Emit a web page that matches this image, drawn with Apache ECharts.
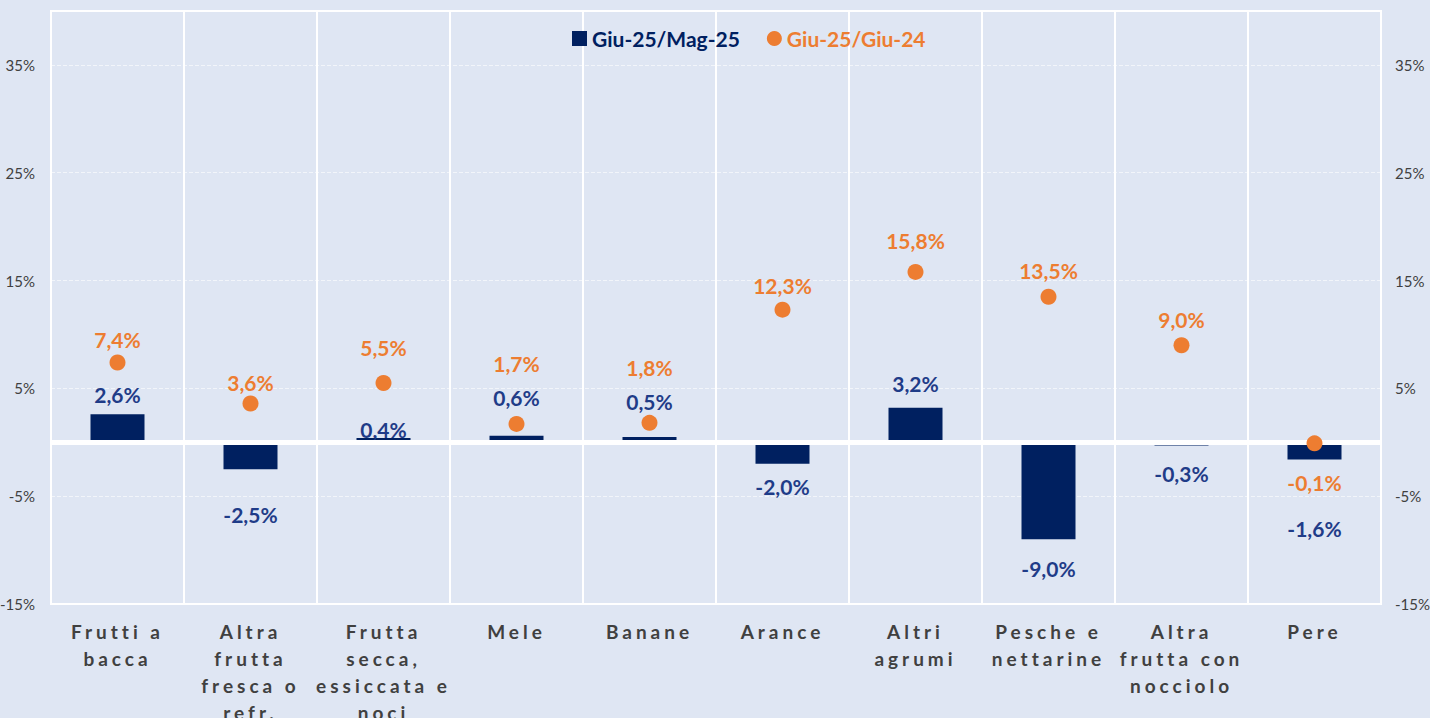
<!DOCTYPE html>
<html>
<head>
    <meta charset="utf-8">
    <title>Frutta - variazioni prezzi</title>
    <script src="https://cdn.jsdelivr.net/npm/echarts@6/dist/echarts.min.js"></script>
    <style>
        html, body { margin: 0; padding: 0; background: #DFE6F3; }
        #chart { width: 1430px; height: 718px; }
    </style>
</head>
<body>
    <div id="chart"></div>
    <script type="text/javascript">
        // categorie (a capo come nell'originale)
        var categories = ['Frutti a\nbacca', 'Altra\nfrutta\nfresca o\nrefr.', 'Frutta\nsecca,\nessiccata e\nnoci', 'Mele', 'Banane',
            'Arance', 'Altri\nagrumi', 'Pesche e\nnettarine', 'Altra\nfrutta con\nnocciolo', 'Pere'];
        // Giu-25/Mag-25 (%)
        var momValues = [2.6, -2.5, 0.4, 0.6, 0.5, -2.0, 3.2, -9.0, -0.3, -1.6];
        // Giu-25/Giu-24 (%)
        var yoyValues = [7.4, 3.6, 5.5, 1.7, 1.8, 12.3, 15.8, 13.5, 9.0, -0.1];
        // asse y
        var yMin = -15, yMax = 40, yStep = 10;

        // distanza (px) tra fine della barra / centro del punto e centro dell'etichetta
        var momLabelGap = [20, 45, 8, 38, 35, 23, 24, 29, 28, 69];
        var yoyLabelGap = [23, 21, 35, 60, 55, 24, 31, 26, 26, 39];

        var NAVY = '#002060', ORANGE = '#ED7D31', LABEL_BLUE = '#1F3C88';
        var LH = 22;

        function pct(v) {
            return v.toFixed(1).replace('.', ',') + '%';
        }

        var barData = momValues.map(function (v, i) {
            return {
                value: v,
                label: { position: v >= 0 ? 'top' : 'bottom', distance: momLabelGap[i] - LH / 2 }
            };
        });
        var dotData = yoyValues.map(function (v, i) {
            return {
                value: v,
                label: { position: v >= 0 ? 'top' : 'bottom', distance: yoyLabelGap[i] - 8 - LH / 2 }
            };
        });

        var chart = echarts.init(document.getElementById('chart'), null, { renderer: 'svg' });

        var option = {
            backgroundColor: '#DFE6F3',
            animation: false,
            textStyle: { fontFamily: 'Lato' },
            legend: {
                left: 567,
                top: 23,
                itemWidth: 15,
                itemHeight: 15,
                itemGap: 27,
                textStyle: { fontSize: 21, fontWeight: 'bold', fontFamily: 'Lato' },
                data: [
                    { name: 'Giu-25/Mag-25', icon: 'rect', textStyle: { color: NAVY } },
                    { name: 'Giu-25/Giu-24', icon: 'circle', textStyle: { color: ORANGE } }
                ]
            },
            grid: {
                left: 51,
                right: 49,
                top: 11,
                bottom: 114,
                outerBoundsMode: 'none',
                containLabel: false,
                show: true,
                borderColor: '#ffffff',
                borderWidth: 2,
                backgroundColor: 'transparent'
            },
            xAxis: {
                type: 'category',
                data: categories,
                axisLine: { show: false, onZero: false },
                axisTick: { show: false },
                splitLine: { show: true, interval: 0, lineStyle: { color: '#ffffff', width: 2 } },
                axisLabel: {
                    interval: 0,
                    margin: 14,
                    color: '#404040',
                    fontSize: 19,
                    fontWeight: 'bold',
                    fontFamily: 'Lato',
                    lineHeight: 27
                }
            },
            yAxis: [
                {
                    type: 'value',
                    min: yMin,
                    max: yMax,
                    interval: yStep,
                    axisLine: { show: false },
                    axisTick: { show: false },
                    splitLine: { lineStyle: { color: 'rgba(255,255,255,0.6)', type: 'dashed', width: 1 } },
                    axisLabel: {
                        showMaxLabel: false,
                        margin: 16,
                        color: '#404040',
                        fontSize: 15,
                        formatter: function (v) { return v + '%'; }
                    }
                },
                {
                    type: 'value',
                    min: yMin,
                    max: yMax,
                    interval: yStep,
                    position: 'right',
                    axisLine: { show: false },
                    axisTick: { show: false },
                    splitLine: { show: false },
                    axisLabel: {
                        showMaxLabel: false,
                        margin: 14,
                        color: '#404040',
                        fontSize: 15,
                        formatter: function (v) { return v + '%'; }
                    }
                }
            ],
            series: [
                {
                    name: 'Giu-25/Mag-25',
                    type: 'bar',
                    barWidth: 54,
                    itemStyle: { color: NAVY },
                    label: {
                        show: true,
                        color: LABEL_BLUE,
                        fontSize: 21,
                        fontWeight: 'bold',
                        fontFamily: 'Lato',
                        lineHeight: LH,
                        formatter: function (p) { return pct(p.value); }
                    },
                    markLine: {
                        silent: true,
                        symbol: ['none', 'none'],
                        label: { show: false },
                        lineStyle: { color: '#ffffff', width: 5, type: 'solid' },
                        data: [{ yAxis: 0 }]
                    },
                    data: barData
                },
                {
                    name: 'Giu-25/Giu-24',
                    type: 'scatter',
                    yAxisIndex: 1,
                    z: 5,
                    symbol: 'circle',
                    symbolSize: 16,
                    itemStyle: { color: ORANGE, opacity: 1 },
                    label: {
                        show: true,
                        color: ORANGE,
                        fontSize: 21,
                        fontWeight: 'bold',
                        fontFamily: 'Lato',
                        lineHeight: LH,
                        formatter: function (p) { return pct(p.value); }
                    },
                    data: dotData
                }
            ]
        };

        chart.setOption(option);

        // spaziatura lettere delle etichette dell'asse x (come nel grafico Excel)
        function spaceAxisLabels() {
            var lines = {};
            categories.forEach(function (c) {
                c.split('\n').forEach(function (l) { lines[l] = true; });
            });
            var texts = document.querySelectorAll('#chart svg text');
            for (var i = 0; i < texts.length; i++) {
                if (lines[texts[i].textContent]) {
                    texts[i].setAttribute('letter-spacing', '4px');
                }
            }
        }
        spaceAxisLabels();
        chart.on('finished', spaceAxisLabels);
    </script>
</body>
</html>
